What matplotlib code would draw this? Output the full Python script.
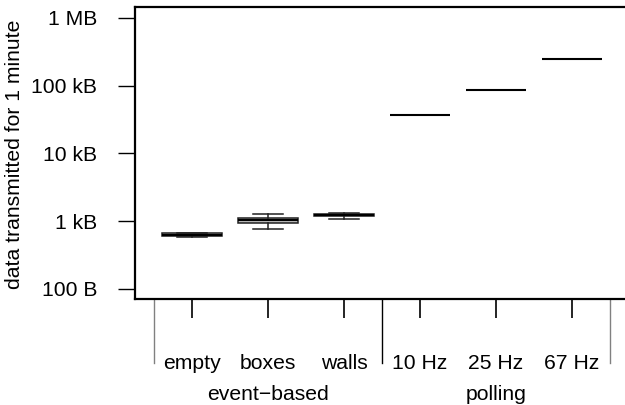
import matplotlib
matplotlib.use('Agg')
import matplotlib.pyplot as plt
import matplotlib.transforms as mtransforms

plt.rcParams['font.family'] = ['Liberation Sans', 'DejaVu Sans']

# data (bytes per minute)
categories = ['empty', 'boxes', 'walls', '10 Hz', '25 Hz', '67 Hz']
groups = ['event\u2212based', 'polling']
group_centers = [2, 5]
whislo = [586, 770, 1071, 36700, 88000, 246000]
q1 = [601, 944, 1185, 36700, 88000, 246000]
med = [637, 1035, 1240, 36700, 88000, 246000]
q3 = [665, 1134, 1300, 36700, 88000, 246000]
whishi = [671, 1268, 1325, 36700, 88000, 246000]
ytick_vals = [1e2, 1e3, 1e4, 1e5, 1e6]
ytick_labels = ['100 B', '1 kB', '10 kB', '100 kB', '1 MB']
separators = [0.5, 3.5, 6.5]

FS = 15.2
W, H = 625, 405
fig = plt.figure(figsize=(W / 100, H / 100), dpi=100)
ax = fig.add_axes([135 / W, (H - 299) / H, (W - 135) / W, 292 / H])

stats = []
for i in range(len(categories)):
    stats.append(dict(med=med[i], q1=q1[i], q3=q3[i], whislo=whislo[i],
                      whishi=whishi[i], fliers=[], label=categories[i]))

ax.bxp(stats, positions=range(1, 7), widths=0.8, capwidths=0.4,
       patch_artist=True, showfliers=False,
       boxprops=dict(facecolor='#bdbdbd', edgecolor='#202020', linewidth=1.1),
       medianprops=dict(color='black', linewidth=1.5),
       whiskerprops=dict(color='#202020', linewidth=1.1),
       capprops=dict(color='#202020', linewidth=1.1))

ax.set_yscale('log')
ax.set_ylim(10 ** (2 - 10 / 67.75), 10 ** (6 + 11 / 67.75))
ax.set_xlim(0.25, 6 + 53 / 76)
ax.set_yticks(ytick_vals)
ax.set_yticklabels(ytick_labels, fontsize=FS)
ax.minorticks_off()
ax.tick_params(axis='y', length=12.2, width=1, pad=15)

ax.set_xticks(range(1, 7))
ax.set_xticklabels(categories, fontsize=FS)
ax.tick_params(axis='x', length=13.7, width=1.2, pad=26)

for side in ['left', 'top', 'bottom']:
    ax.spines[side].set_linewidth(1.6)
ax.spines['right'].set_visible(False)

trans = mtransforms.blended_transform_factory(ax.transData, ax.transAxes)
for s in separators:
    col = 'black' if s == 3.5 else '#808080'
    ax.plot([s, s], [0, -64 / 292], transform=trans, color=col,
            linewidth=1, clip_on=False)

for g, c in zip(groups, group_centers):
    ax.text(c, -96 / 292, g, transform=trans, ha='center', va='center',
            fontsize=FS)

fig.text(15 / W, 1 - 154 / H, 'data transmitted for 1 minute', rotation=90,
         ha='center', va='center', fontsize=FS)

fig.savefig('out.png', dpi=100)
